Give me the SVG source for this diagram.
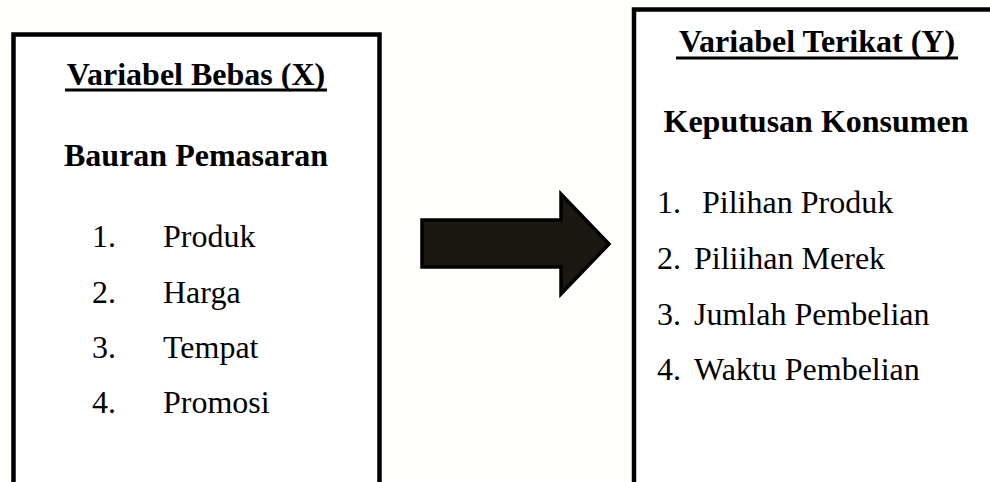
<svg xmlns="http://www.w3.org/2000/svg" width="990" height="482" viewBox="0 0 990 482">
  <style>
    .box { fill: #ffffff; stroke: #000000; stroke-width: 4.5; }
    .title { font-family: "Liberation Serif", "Times New Roman", serif; font-size: 32px; font-weight: bold; fill: #000; }
    .item { font-family: "Liberation Serif", "Times New Roman", serif; font-size: 32px; fill: #000; }
    .rule { stroke: #000; stroke-width: 3; }
  </style>
  <rect x="0" y="0" width="990" height="482" fill="#fffffc"/>

  <!-- independent variable box -->
  <g id="variabel-bebas">
    <rect class="box" x="13.5" y="34.5" width="366" height="470"/>
    <text class="title" x="196" y="85" text-anchor="middle">Variabel Bebas (X)</text>
    <line class="rule" x1="65" y1="90" x2="327" y2="90"/>
    <text class="title" x="196" y="166" text-anchor="middle">Bauran Pemasaran</text>
    <text class="item" x="92" y="247">1.</text><text class="item" x="163" y="247">Produk</text>
    <text class="item" x="92" y="303">2.</text><text class="item" x="163" y="303">Harga</text>
    <text class="item" x="92" y="358">3.</text><text class="item" x="163" y="358">Tempat</text>
    <text class="item" x="92" y="413">4.</text><text class="item" x="163" y="413">Promosi</text>
  </g>

  <!-- dependent variable box -->
  <g id="variabel-terikat">
    <rect class="box" x="634" y="9.5" width="400" height="500"/>
    <text class="title" x="817" y="52" text-anchor="middle">Variabel Terikat (Y)</text>
    <line class="rule" x1="676" y1="58" x2="958" y2="58"/>
    <text class="title" x="816" y="132" text-anchor="middle">Keputusan Konsumen</text>
    <text class="item" x="657" y="213">1.</text><text class="item" x="702" y="213">Pilihan Produk</text>
    <text class="item" x="657" y="269">2.</text><text class="item" x="694" y="269">Piliihan Merek</text>
    <text class="item" x="657" y="325">3.</text><text class="item" x="694" y="325">Jumlah Pembelian</text>
    <text class="item" x="657" y="380">4.</text><text class="item" x="694" y="380">Waktu Pembelian</text>
  </g>

  <!-- block arrow between the boxes -->
  <g id="connectors">
    <path d="M422,220 L561,220 L561,194 L609,244 L561,294 L561,267 L422,267 Z"
          fill="#1a1811" stroke="#000" stroke-width="3.5" stroke-linejoin="miter"/>
  </g>
</svg>
